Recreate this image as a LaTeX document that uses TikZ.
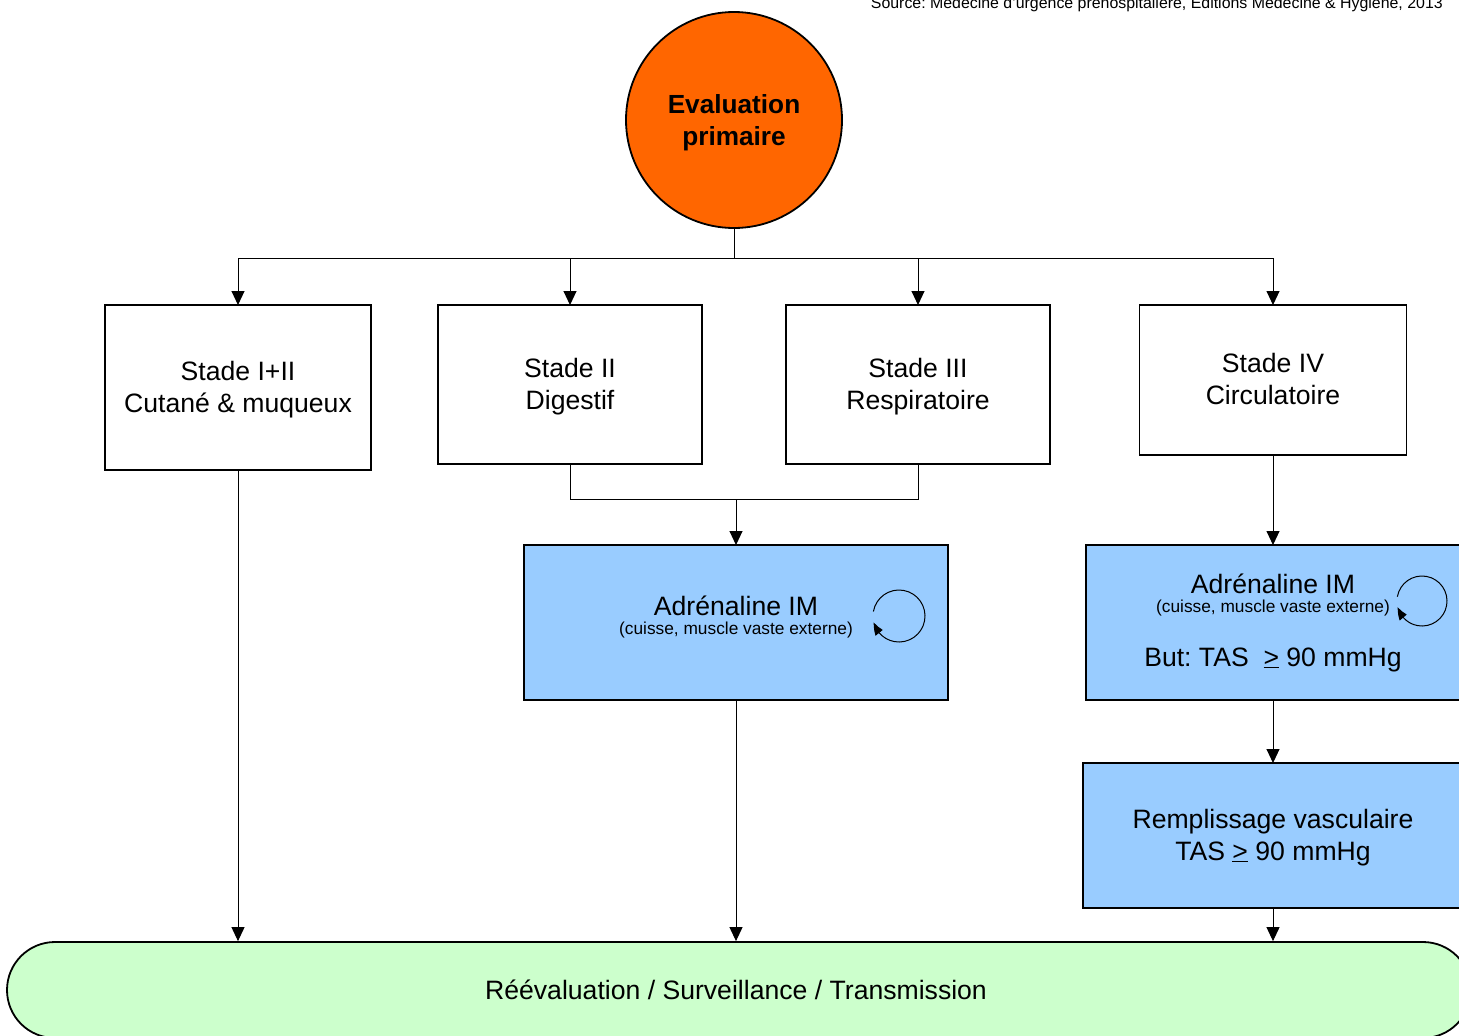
\documentclass[tikz,border=0pt]{standalone}
\usepackage{fontspec}
\setmainfont{Liberation Sans}
\usetikzlibrary{arrows.meta,bending}
\definecolor{evalorange}{HTML}{FF6600}
\definecolor{adrblue}{HTML}{99CCFF}
\definecolor{reevalgreen}{HTML}{CCFFCC}
\frenchspacing
\tikzset{
  flow/.style={-{Triangle[length=14pt,width=13pt]},line width=1pt},
  link/.style={line width=1pt},
  stadebox/.style={draw,line width=1.8pt,inner sep=0pt,outer sep=0pt},
  adrbox/.style={stadebox,fill=adrblue},
  txt/.style={anchor=base,inner sep=0pt,font=\fontsize{26.6}{32}\selectfont},
  small/.style={anchor=base,inner sep=0pt,font=\fontsize{17.3}{20}\selectfont},
  loop/.style={line width=1pt,-{Triangle[length=12pt,width=9pt,bend]}}
}
\begin{document}
\begin{tikzpicture}[x=1pt,y=-1pt]
        \useasboundingbox (0,0) rectangle (1459,1036);
        \clip (0,0) rectangle (1459,1036);
        \node[anchor=base east,inner sep=0pt,font=\fontsize{15.9}{18}\selectfont] (src) at (1443,8.5)
          {Source: Médecine d'urgence préhospitalière, Editions Médecine \& Hygiène, 2013};

        \node[circle,draw,line width=1.8pt,fill=evalorange,minimum size=216pt,inner sep=0pt] (eval) at (734,120) {};
        \node[txt,font=\bfseries\fontsize{26.2}{32}\selectfont] at (734,113) {Evaluation};
        \node[txt,font=\bfseries\fontsize{26.2}{32}\selectfont] at (734,145) {primaire};

        \node[stadebox,minimum width=266pt,minimum height=165pt] (s1) at (238,387.5) {};
        \node[txt] at (238,380) {Stade I+II};
        \node[txt] at (238,412) {Cutané \& muqueux};
        \node[stadebox,minimum width=264pt,minimum height=159pt] (s2) at (570,384.5) {};
        \node[txt] at (570,377) {Stade II};
        \node[txt] at (570,409) {Digestif};
        \node[stadebox,minimum width=264pt,minimum height=159pt] (s3) at (918,384.5) {};
        \node[txt] at (918,377) {Stade III};
        \node[txt] at (918,409) {Respiratoire};
        \node[stadebox,minimum width=267pt,minimum height=150pt] (s4) at (1273,380) {};
        \node[txt] at (1273,372) {Stade IV};
        \node[txt] at (1273,404) {Circulatoire};

        \node[adrbox,minimum width=424pt,minimum height=155pt] (adr1) at (736,622.5) {};
        \node[txt] at (736,615) {Adrénaline IM};
        \node[small] at (736,634) {(cuisse, muscle vaste externe)};
        \draw[loop] (899,616) ++(170:26pt) arc[start angle=170,end angle=-166,radius=26pt];

        \node[adrbox,minimum width=374pt,minimum height=155pt] (adr2) at (1273,622.5) {};
        \node[txt] at (1273,593) {Adrénaline IM};
        \node[small] at (1273,612) {(cuisse, muscle vaste externe)};
        \node[txt] at (1273,666) {But: TAS\ \ \underline{>} 90 mmHg};
        \draw[loop] (1422,601) ++(170:25pt) arc[start angle=170,end angle=-166,radius=25pt];

        \node[adrbox,minimum width=380pt,minimum height=145pt] (fill) at (1273,835.5) {};
        \node[txt] at (1273,828) {Remplissage vasculaire};
        \node[txt] at (1273,860) {TAS \underline{>} 90 mmHg};

        \node[draw,line width=1.8pt,fill=reevalgreen,rounded corners=48pt,minimum width=1464pt,minimum height=96pt,inner sep=0pt] (reeval) at (739,990) {};
        \node[txt] at (736,999) {Réévaluation / Surveillance / Transmission};

        \coordinate (split) at (734,258);
        \coordinate (merge) at (736,499);
        \draw[link] (eval.south) -- (split);
        \draw[flow] (split) -| (s1.north);
        \draw[flow] (split) -| (s2.north);
        \draw[flow] (split) -| (s3.north);
        \draw[flow] (split) -| (s4.north);
        \draw[link] (s2.south) |- (merge);
        \draw[link] (s3.south) |- (merge);
        \draw[flow] (merge) -- (adr1.north);
        \draw[flow] (s4.south) -- (adr2.north);
        \draw[flow] (adr2.south) -- (fill.north);
        \draw[flow] (fill.south) -- (fill.south |- reeval.north);
        \draw[flow] (s1.south) -- (s1.south |- reeval.north);
        \draw[flow] (adr1.south) -- (adr1.south |- reeval.north);
    \end{tikzpicture}
\end{document}
